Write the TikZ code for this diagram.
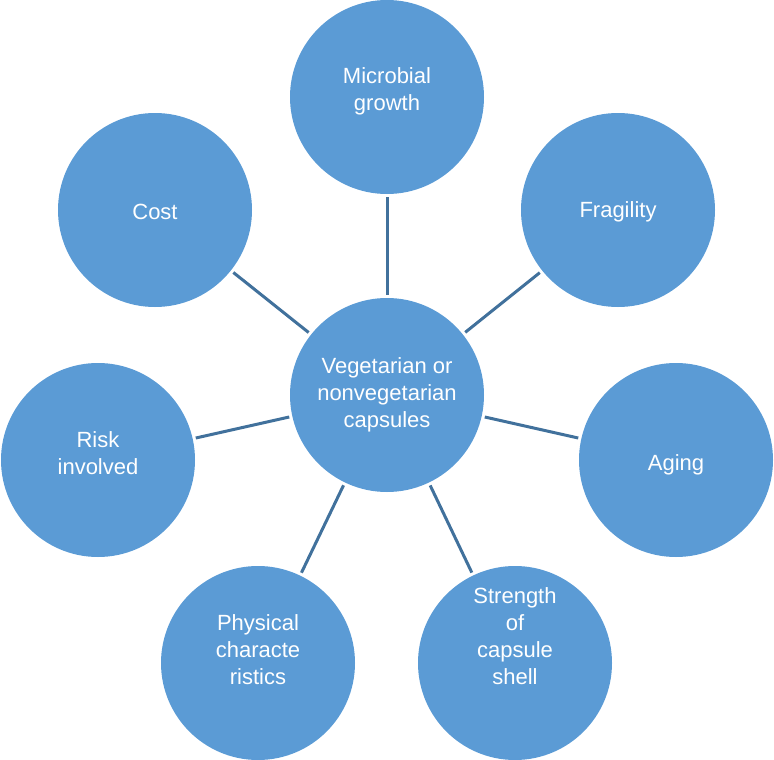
\documentclass[tikz,border=0pt]{standalone}
\usepackage{fontspec}
\setmainfont{Liberation Sans}
\definecolor{circfill}{HTML}{5B9BD5}
\definecolor{linkcol}{HTML}{41719C}
\begin{document}
\begin{tikzpicture}[x=1pt,y=-1pt,
  bubble/.style={circle,fill=circfill,draw=none,minimum size=194pt,inner sep=0pt},
  lbl/.style={text=white,align=center,inner sep=0pt,font=\fontsize{22}{27}\selectfont},
  link/.style={draw=linkcol,line width=3pt,shorten >=3pt,shorten <=3pt}]
\useasboundingbox (0,0) rectangle (774,760);
\node[bubble] (C)  at (387,395) {};
\node[bubble] (M)  at (387,97) {};
\node[bubble] (F)  at (618,210) {};
\node[bubble] (A)  at (676,460) {};
\node[bubble] (S)  at (515,663) {};
\node[bubble] (P)  at (258,663) {};
\node[bubble] (R)  at (98,460) {};
\node[bubble] (Co) at (155,210) {};
\draw[link] (C) -- (M);
\draw[link] (C) -- (F);
\draw[link] (C) -- (A);
\draw[link] (C) -- (S);
\draw[link] (C) -- (P);
\draw[link] (C) -- (R);
\draw[link] (C) -- (Co);
\node[lbl] (tC)  at (387,395) {Vegetarian or\\nonvegetarian\\capsules};
\node[lbl] (tM)  at (387,91) {Microbial\\growth};
\node[lbl] (tF)  at (618,212) {Fragility};
\node[lbl] (tA)  at (676,465) {Aging};
\node[lbl] (tS)  at (515,636) {Strength\\of\\capsule\\shell};
\node[lbl] (tP)  at (258,650) {Physical\\characte\\ristics};
\node[lbl] (tR)  at (98,453) {Risk\\involved};
\node[lbl] (tCo) at (155,212) {Cost};
\end{tikzpicture}
\end{document}
